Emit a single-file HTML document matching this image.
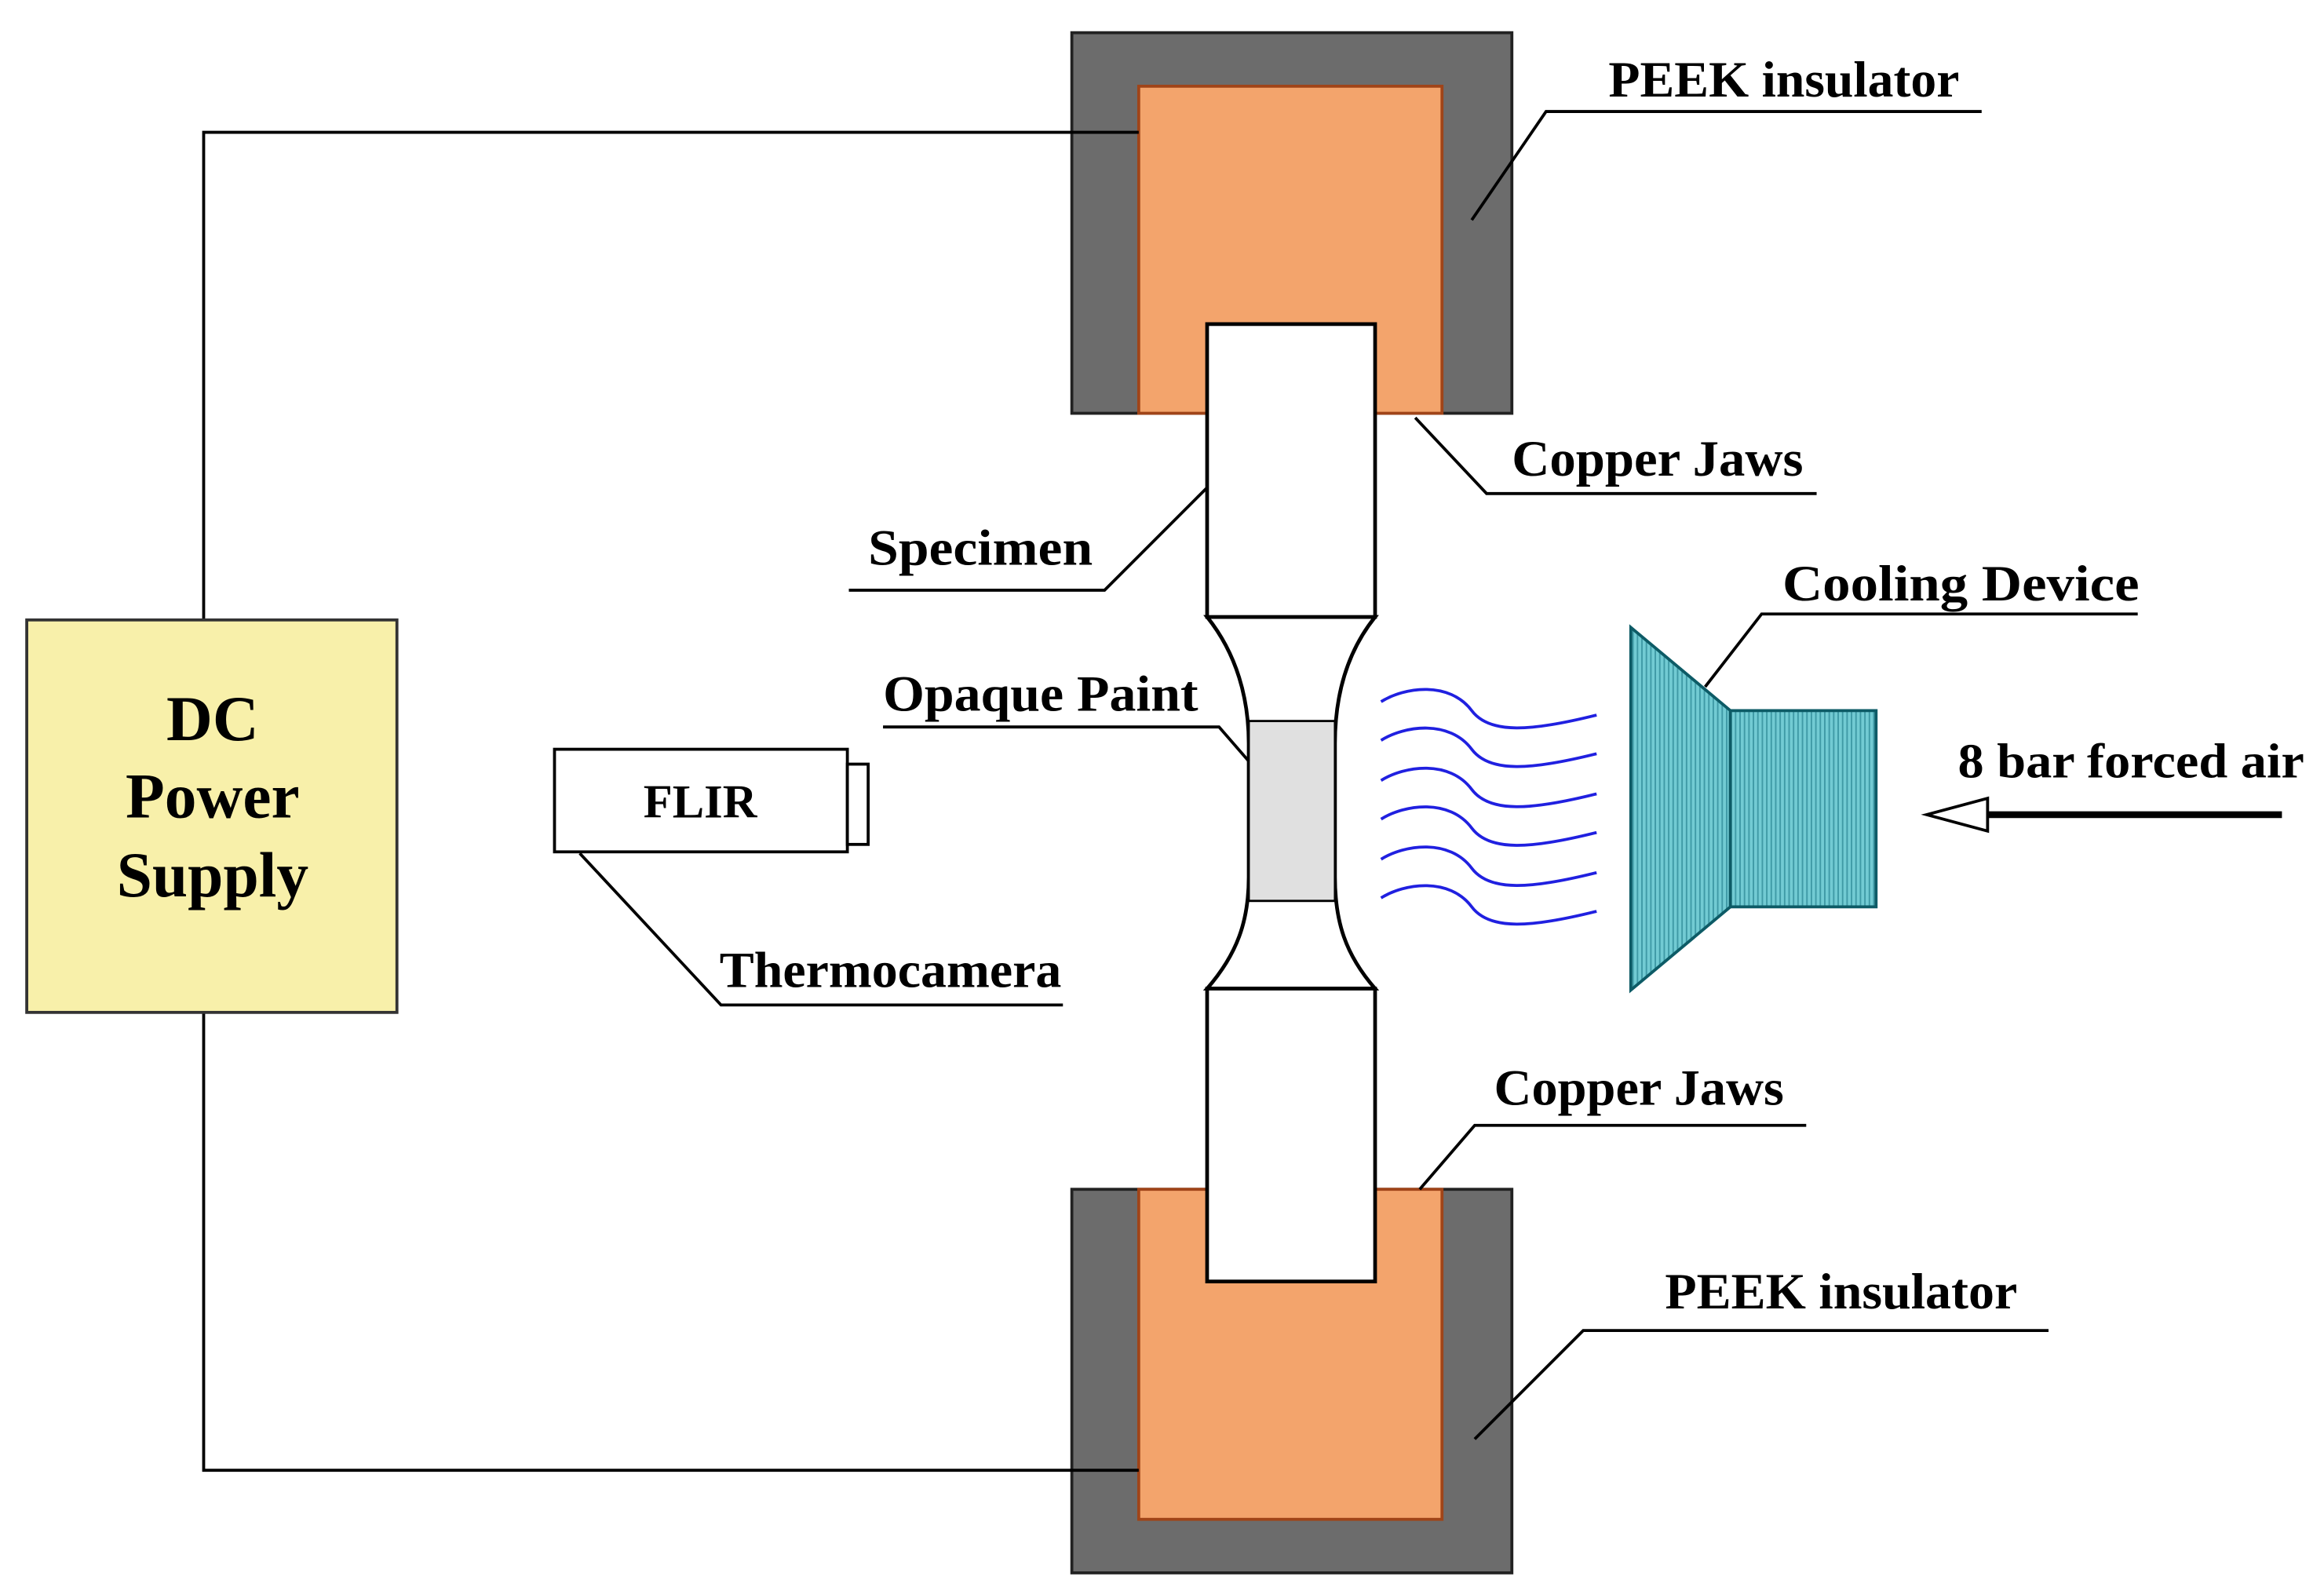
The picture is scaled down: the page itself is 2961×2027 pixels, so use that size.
<!DOCTYPE html>
<html><head><meta charset="utf-8"><style>
html,body{margin:0;padding:0;background:#fff}
svg{display:block}
text{font-family:"Liberation Serif",serif;font-weight:bold;fill:#000}
</style></head><body>
<svg width="2961" height="2027" viewBox="0 0 1563.3 1070.2" preserveAspectRatio="none" xmlns="http://www.w3.org/2000/svg">
<defs>
<pattern id="vl" width="3" height="10" patternUnits="userSpaceOnUse">
<rect width="3" height="10" fill="#72cbd3"/><rect width="1" height="10" fill="#3f9aa6"/>
</pattern>
</defs>
<!-- top jaw -->
<rect x="721" y="22" width="296" height="256" fill="#6c6c6c" stroke="#222" stroke-width="2"/>
<rect x="766" y="58" width="204" height="220" fill="#f3a46c" stroke="#a04418" stroke-width="2"/>
<!-- bottom jaw -->
<rect x="721" y="800" width="296" height="258" fill="#6c6c6c" stroke="#222" stroke-width="2"/>
<rect x="766" y="800" width="204" height="222" fill="#f3a46c" stroke="#a04418" stroke-width="2"/>
<g stroke="#000" stroke-width="2" fill="none">
<polyline points="766,89 137,89 137,417"/>
<polyline points="137,681 137,989 766,989"/>
</g>
<!-- specimen -->
<g stroke="#000" stroke-width="2.5">
<path d="M812,415 C832,440 840,470 840,500 L840,590 C840,620 832,642 812,665 L925,665 C905,642 898,620 898,590 L898,500 C898,470 905,440 925,415 Z" fill="#fff"/>
<rect x="840" y="485" width="58" height="121" fill="#e0e0e0" stroke-width="1.5"/>
<rect x="812" y="218" width="113" height="197" fill="#fff"/>
<rect x="812" y="665" width="113" height="197" fill="#fff"/>
</g>
<!-- DC -->
<rect x="18" y="417" width="249" height="264" fill="#f8f0aa" stroke="#333" stroke-width="2"/>
<text x="143" y="498" font-size="43" text-anchor="middle">DC</text>
<text x="143" y="550" font-size="43" text-anchor="middle">Power</text>
<text x="143" y="603" font-size="43" text-anchor="middle">Supply</text>
<!-- FLIR -->
<rect x="373" y="504" width="197" height="69" fill="#fff" stroke="#000" stroke-width="2"/>
<rect x="570" y="514" width="14" height="54" fill="#fff" stroke="#000" stroke-width="2"/>
<text x="471" y="550" font-size="32" text-anchor="middle">FLIR</text>
<!-- cooling device -->
<polygon points="1097,422 1164,478 1164,610 1097,666" fill="url(#vl)" stroke="#0d5b66" stroke-width="2"/>
<rect x="1164" y="478" width="98" height="132" fill="url(#vl)" stroke="#0d5b66" stroke-width="2"/>
<!-- air waves -->
<g stroke="#2020e0" stroke-width="2" fill="none">
<path id="w" d="M929,472 C945,462 975,458 990,478 C1002,494 1030,492 1074,481"/>
<use href="#w" y="26"/><use href="#w" y="53"/><use href="#w" y="79"/><use href="#w" y="106"/><use href="#w" y="132"/>
</g>
<!-- arrow -->
<line x1="1336" y1="548" x2="1535" y2="548" stroke="#000" stroke-width="4.5"/>
<polygon points="1296,548 1337,537 1337,559" fill="#fff" stroke="#000" stroke-width="2"/>
<text x="1317" y="523" font-size="33" textLength="233" lengthAdjust="spacingAndGlyphs">8 bar forced air</text>
<!-- leaders -->
<g stroke="#000" stroke-width="2" fill="none">
<polyline points="990,148 1040,75 1333,75"/>
<polyline points="952,281 1000,332 1222,332"/>
<polyline points="812,328 743,397 571,397"/>
<polyline points="840,512 820,489 594,489"/>
<polyline points="390,574 485,676 715,676"/>
<polyline points="1147,462 1185,413 1438,413"/>
<polyline points="955,800 992,757 1215,757"/>
<polyline points="992,968 1065,895 1378,895"/>
</g>
<g font-size="34">
<text x="1082" y="65" textLength="236" lengthAdjust="spacingAndGlyphs">PEEK insulator</text>
<text x="1017" y="320" textLength="196" lengthAdjust="spacingAndGlyphs">Copper Jaws</text>
<text x="584" y="380" textLength="151" lengthAdjust="spacingAndGlyphs">Specimen</text>
<text x="594" y="478" textLength="212" lengthAdjust="spacingAndGlyphs">Opaque Paint</text>
<text x="484" y="664" textLength="230" lengthAdjust="spacingAndGlyphs">Thermocamera</text>
<text x="1199" y="404" textLength="240" lengthAdjust="spacingAndGlyphs">Cooling Device</text>
<text x="1005" y="743" textLength="195" lengthAdjust="spacingAndGlyphs">Copper Jaws</text>
<text x="1120" y="880" textLength="237" lengthAdjust="spacingAndGlyphs">PEEK insulator</text>
</g>
</svg>
</body></html>
